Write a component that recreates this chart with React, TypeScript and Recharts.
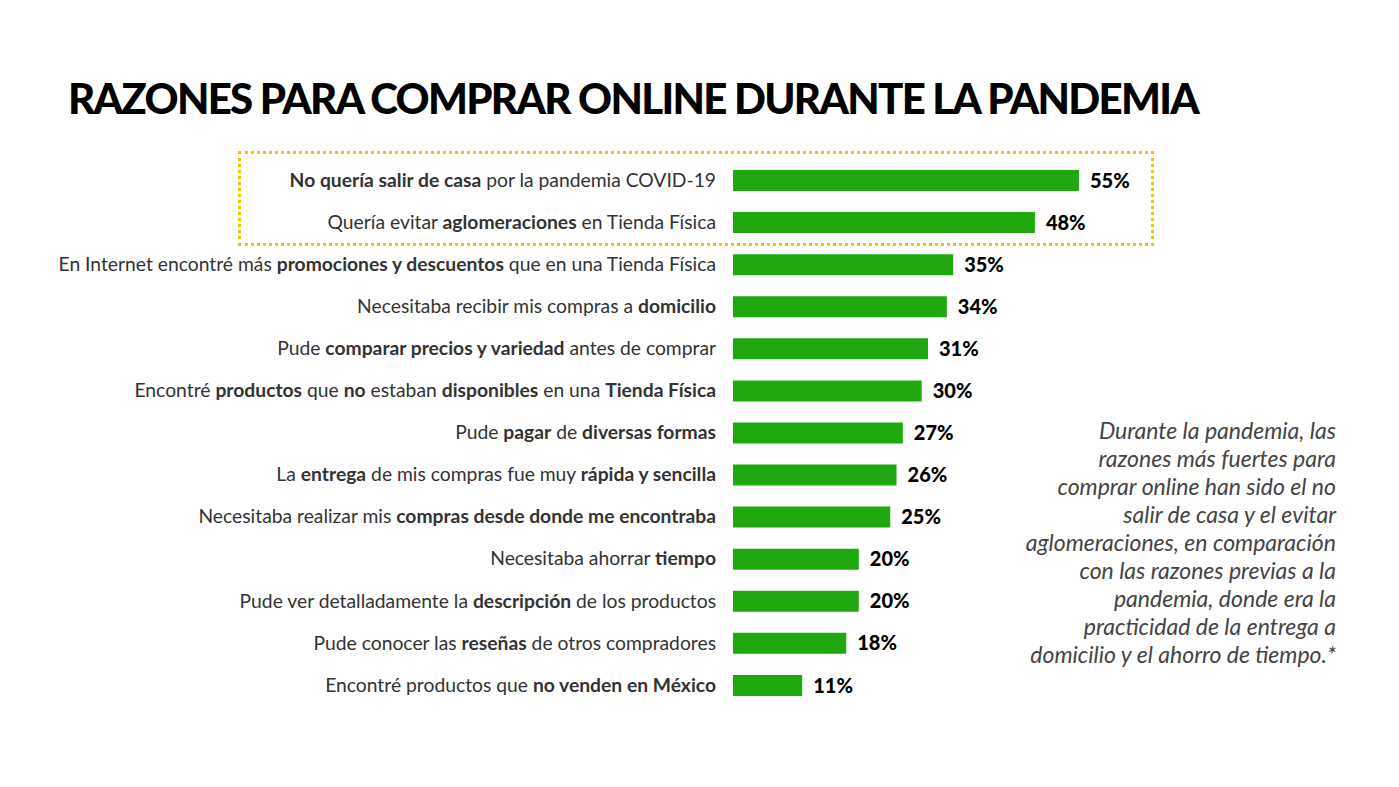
import React from 'react';
import { BarChart, Bar, XAxis, YAxis, LabelList } from 'recharts';

// **text** marks the bold part of a label
const REASONS = [
  '**No quería salir de casa** por la pandemia COVID-19',
  'Quería evitar **aglomeraciones** en Tienda Física',
  'En Internet encontré más **promociones y descuentos** que en una Tienda Física',
  'Necesitaba recibir mis compras a **domicilio**',
  'Pude **comparar precios y variedad** antes de comprar',
  'Encontré **productos** que **no** estaban **disponibles** en una **Tienda Física**',
  'Pude **pagar** de **diversas formas**',
  'La **entrega** de mis compras fue muy **rápida y sencilla**',
  'Necesitaba realizar mis **compras desde donde me encontraba**',
  'Necesitaba ahorrar **tiempo**',
  'Pude ver detalladamente la **descripción** de los productos',
  'Pude conocer las **reseñas** de otros compradores',
  'Encontré productos que **no venden en México**',
];

const PERCENTS = [55, 48, 35, 34, 31, 30, 27, 26, 25, 20, 20, 18, 11];

const TITLE = 'RAZONES PARA COMPRAR ONLINE DURANTE LA PANDEMIA';

const NOTE_LINES = [
  'Durante la pandemia, las',
  'razones más fuertes para',
  'comprar online han sido el no',
  'salir de casa y el evitar',
  'aglomeraciones, en comparación',
  'con las razones previas a la',
  'pandemia, donde era la',
  'practicidad de la entrega a',
  'domicilio y el ahorro de tiempo.*',
];

const GREEN = '#20a810';
const FONT = 'Lato, "Open Sans", sans-serif';

const data = REASONS.map((reason, i) => ({ reason, value: PERCENTS[i] }));

function ReasonTick(props: any) {
  const { x, y, payload } = props;
  const parts = String(payload.value).split('**');
  return (
    <text
      x={x}
      y={y}
      dy="0.35em"
      textAnchor="end"
      fontFamily={FONT}
      fontSize={19.3}
      fill="#333"
      style={{ whiteSpace: 'pre' }}
    >
      {parts.map((p, i) => (
        <tspan key={i} fontWeight={i % 2 === 1 ? 700 : 400}>
          {p}
        </tspan>
      ))}
    </text>
  );
}

export default function App() {
  return (
    <div
      style={{
        position: 'absolute',
        left: 0,
        top: 0,
        width: 1399,
        height: 787,
        background: '#fff',
        fontFamily: FONT,
      }}
    >
      <div
        style={{
          position: 'absolute',
          left: 68,
          top: 73,
          fontSize: 42,
          fontWeight: 900,
          letterSpacing: -1.7,
          color: '#000',
          whiteSpace: 'nowrap',
          lineHeight: '50px',
        }}
      >
        {TITLE}
      </div>

      {/* dotted highlight round the two top reasons */}
      <div
        style={{
          position: 'absolute',
          left: 238,
          top: 151,
          width: 910,
          height: 89,
          border: '3px dotted #f2c500',
        }}
      />

      <div style={{ position: 'absolute', left: 0, top: 0 }}>
        <BarChart
          width={1399}
          height={787}
          data={data}
          layout="vertical"
          margin={{ top: 159, right: 37, bottom: 81, left: 0 }}
          barSize={21}
        >
          <XAxis type="number" domain={[0, 100]} hide />
          <YAxis
            type="category"
            dataKey="reason"
            width={733}
            axisLine={false}
            tickLine={false}
            tickSize={0}
            tickMargin={17}
            interval={0}
            tick={<ReasonTick />}
          />
          <Bar dataKey="value" fill={GREEN} isAnimationActive={false}>
            <LabelList
              dataKey="value"
              position="right"
              offset={11}
              formatter={(v: any) => `${v}%`}
              style={{ fontFamily: FONT, fontSize: 20, fontWeight: 900, fill: '#000' }}
            />
          </Bar>
        </BarChart>
      </div>

      <div
        style={{
          position: 'absolute',
          right: 1399 - 1336,
          top: 416,
          textAlign: 'right',
          fontStyle: 'italic',
          fontSize: 23,
          lineHeight: '28px',
          color: '#444',
          whiteSpace: 'nowrap',
        }}
      >
        {NOTE_LINES.map((l, i) => (
          <div key={i}>{l}</div>
        ))}
      </div>
    </div>
  );
}
